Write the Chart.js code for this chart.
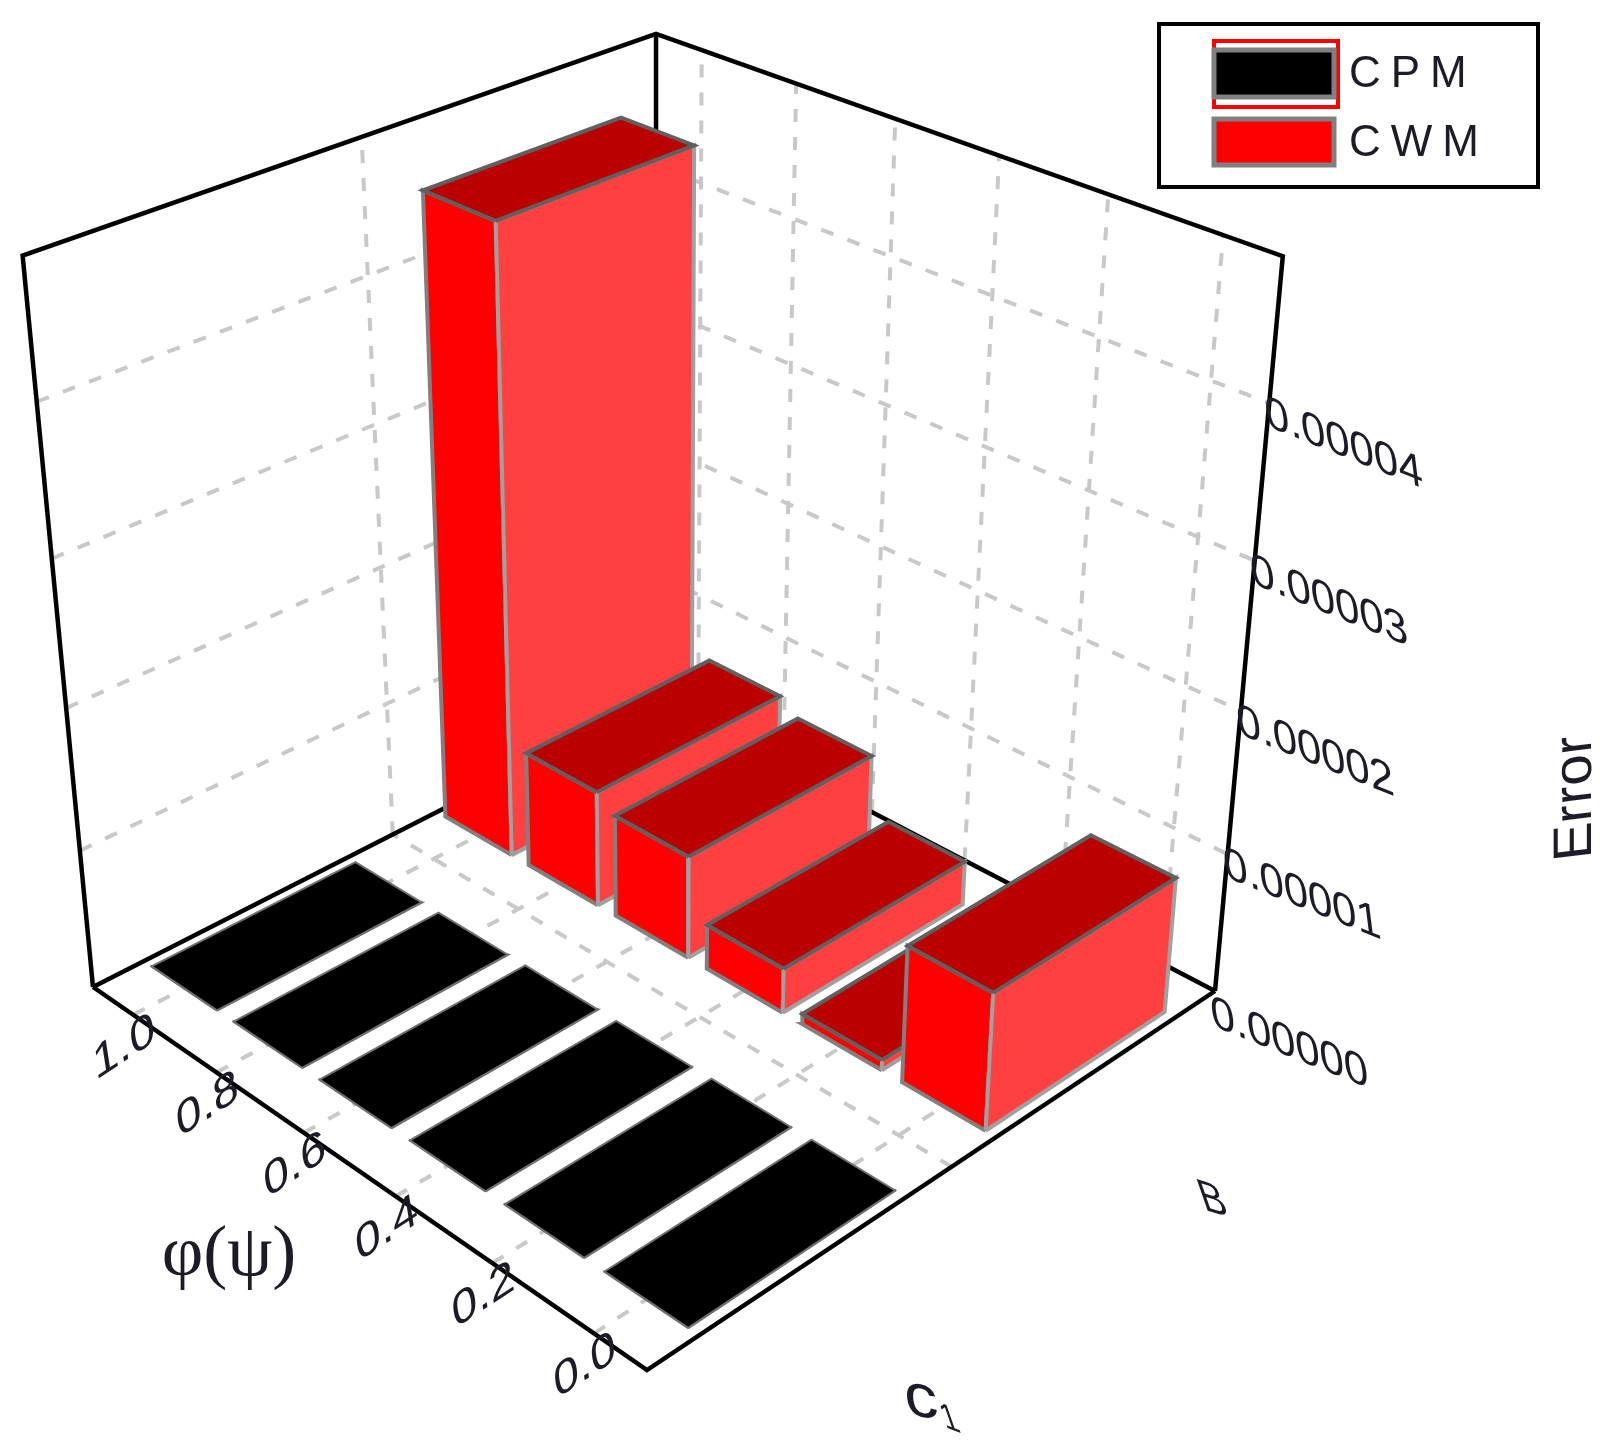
<!DOCTYPE html>
<html>
<head>
<meta charset="utf-8">
<title>Error</title>
<script src="https://cdn.jsdelivr.net/npm/chart.js@4/dist/chart.umd.min.js"></script>
<style>
  html, body { margin: 0; padding: 0; background: #fff; }
  canvas { display: block; }
</style>
</head>
<body>
<canvas id="barChart" width="1615" height="1451"></canvas>
<script>
// --- data ---
const phiValues = [0.0, 0.2, 0.4, 0.6, 0.8, 1.0];
const phiLabels = ['0.0', '0.2', '0.4', '0.6', '0.8', '1.0'];
const seriesNames = ['CPM', 'CWM'];
const categoryNames = ['c1', 'B'];
const cpmValues = [0.00000002, 0.00000002, 0.00000002, 0.00000002, 0.00000002, 0.00000002];
const cwmValues = [0.00000975, 0.00000075, 0.00000325, 0.0000075, 0.0000085, 0.0000446];
const errorTicks = [0, 0.00001, 0.00002, 0.00003, 0.00004];
const errorLabels = ['0.00000', '0.00001', '0.00002', '0.00003', '0.00004'];

// --- 3D box seen in perspective: floor corners + vertical vanishing point ---
const floorFront = [647, 1370], floorLeft = [93, 987], floorRight = [1215, 991], floorBack = [657, 700];
const topBackY = 34, vanish = [666, 6942];
const errorMax = 0.0000489;
const phiMin = -0.1, phiMax = 1.1;
const barWidthPhi = 0.16, barWidthCat = 0.34;   // in axis units
const catCenters = [0.25, 0.75];                 // position of the two rows along the floor

function floorMatrix() {
  const [x0, y0] = floorFront, [x1, y1] = floorLeft, [x2, y2] = floorBack, [x3, y3] = floorRight;
  const dx1 = x1 - x2, dx2 = x3 - x2, sx = x0 - x1 + x2 - x3;
  const dy1 = y1 - y2, dy2 = y3 - y2, sy = y0 - y1 + y2 - y3;
  const den = dx1 * dy2 - dx2 * dy1;
  const g = (sx * dy2 - dx2 * sy) / den, h = (dx1 * sy - sx * dy1) / den;
  return { a: x1 - x0 + g * x1, b: x3 - x0 + h * x3, c: x0, d: y1 - y0 + g * y1, e: y3 - y0 + h * y3, f: y0, g, h };
}
const fm = floorMatrix();
const backBase = [fm.a + fm.b + fm.c, fm.d + fm.e + fm.f, fm.g + fm.h + 1];
const k = (backBase[1] - topBackY * backBase[2]) / (topBackY - vanish[1]);

// u = phi axis (0..1), v = category axis (0..1), w = error axis (0..1)
function project(u, v, w) {
  const px = fm.a * u + fm.b * v + fm.c + w * k * vanish[0];
  const py = fm.d * u + fm.e * v + fm.f + w * k * vanish[1];
  const pw = fm.g * u + fm.h * v + 1 + w * k;
  return { x: px / pw, y: py / pw };
}
const uOf = phi => (phi - phiMin) / (phiMax - phiMin);
const wOf = val => val / errorMax;

// --- every face and line is one scatter dataset ---
const datasets = [];
function addLine(points, color, width, dash) {
  datasets.push({
    showLine: true, data: points, borderColor: color, borderWidth: width, borderDash: dash || [],
    pointRadius: 0, fill: false, tension: 0, clip: false, order: -datasets.length
  });
}
function addFace(points, color, edge, width) {
  datasets.push({
    showLine: true, data: points.concat([points[0]]), backgroundColor: color, borderColor: edge, borderWidth: width,
    pointRadius: 0, fill: 'shape', tension: 0, clip: false, order: -datasets.length
  });
}

const gridColor = '#c8c8c8', gridDash = [13, 15];
// floor grid
phiValues.forEach(phi => {
  const u = uOf(phi);
  addLine([project(u, 0, 0), project(u, 1, 0)], gridColor, 4, gridDash);
  addLine([project(u, 1, 0), project(u, 1, 1)], gridColor, 4, gridDash);
});
addLine([project(0, 0.5, 0), project(1, 0.5, 0)], gridColor, 4, gridDash);
addLine([project(1, 0.5, 0), project(1, 0.5, 1)], gridColor, 4, gridDash);
// wall levels
errorTicks.slice(1).forEach(t => {
  const w = wOf(t);
  addLine([project(1, 0, w), project(1, 1, w), project(0, 1, w)], gridColor, 4, gridDash);
});
// frame
addLine([project(1, 0, 0), project(1, 0, 1), project(1, 1, 1), project(0, 1, 1), project(0, 1, 0)], '#000', 4.5);
addLine([project(1, 1, 0), project(1, 1, 1)], '#000', 4.5);
addLine([project(1, 0, 0), project(1, 1, 0), project(0, 1, 0)], '#000', 4.5);
addLine([project(1, 0, 0), project(0, 0, 0), project(0, 1, 0)], '#000', 4.5);

function addBar(phi, row, value, colors) {
  const u0 = uOf(phi - barWidthPhi / 2), u1 = uOf(phi + barWidthPhi / 2);
  const v0 = catCenters[row] - barWidthCat / 2, v1 = catCenters[row] + barWidthCat / 2;
  const w = wOf(value);
  addFace([project(u0, v0, 0), project(u1, v0, 0), project(u1, v0, w), project(u0, v0, w)], colors.side, colors.sideEdge, colors.width);
  addFace([project(u0, v0, 0), project(u0, v1, 0), project(u0, v1, w), project(u0, v0, w)], colors.front, colors.frontEdge, colors.width);
  addFace([project(u0, v0, w), project(u0, v1, w), project(u1, v1, w), project(u1, v0, w)], colors.top, colors.topEdge, colors.width);
}
const redBar = { side: '#ff0000', sideEdge: '#808080', front: '#ff4040', frontEdge: '#a0a0a0', top: '#bb0000', topEdge: '#606060', width: 4 };
const blackBar = { side: '#000', sideEdge: '#707070', front: '#000', frontEdge: '#707070', top: '#000', topEdge: '#707070', width: 2 };
for (let i = phiValues.length - 1; i >= 0; i--) addBar(phiValues[i], 1, cwmValues[i], redBar);
for (let i = phiValues.length - 1; i >= 0; i--) addBar(phiValues[i], 0, cpmValues[i], blackBar);

// --- text and legend, sheared like the original ---
const textColor = '#1c1c28';
function skewText(ctx, text, x, y, font, axisX, axisY, align) {
  ctx.save();
  ctx.transform(axisX[0], axisX[1], axisY[0], axisY[1], x, y);
  ctx.font = font;
  ctx.fillStyle = textColor;
  ctx.textAlign = align || 'center';
  ctx.textBaseline = 'middle';
  ctx.fillText(text, 0, 0);
  ctx.restore();
}

const overlay = {
  id: 'overlay',
  afterDraw(chart) {
    const ctx = chart.ctx;
    const sx = chart.scales.x, sy = chart.scales.y;
    const at = p => [sx.getPixelForValue(p.x), sy.getPixelForValue(p.y)];

    phiValues.forEach((phi, i) => {
      const [x, y] = at(project(uOf(phi), 0, 0));
      skewText(ctx, phiLabels[i], x - 9, y + 33, '58px "Liberation Sans"', [0.76, -0.5], [0.12, 0.78]);
    });
    errorTicks.forEach((t, i) => {
      const [x, y] = at(project(0, 1, wOf(t)));
      skewText(ctx, errorLabels[i], x - 4, y + (t === 0 ? 22 : 10), '58px "Liberation Sans"', [0.75, 0.3], [0.1, 0.8], 'left');
    });

    skewText(ctx, 'φ(ψ)', 229, 1256, '72px "Liberation Serif"', [1, 0], [0, 1]);
    skewText(ctx, 'Error', 1576, 798, '56px "Liberation Sans"', [0, -1], [0.97, -0.12]);
    skewText(ctx, 'c', 921, 1400, '64px "Liberation Sans"', [1.05, 0.2], [0.1, 0.95]);
    skewText(ctx, '1', 950, 1420, '38px "Liberation Sans"', [0.8, 0.3], [0.35, 1]);
    skewText(ctx, categoryNames[1], 1213, 1201, '46px "Liberation Sans"', [0.85, 0.25], [0.35, 1]);

    // legend box
    ctx.save();
    ctx.lineWidth = 4;
    ctx.strokeStyle = '#000';
    ctx.strokeRect(1159, 24, 379, 163);
    ctx.strokeStyle = '#f00';
    ctx.strokeRect(1214, 41, 124, 66);
    ctx.fillStyle = '#000';
    ctx.fillRect(1214, 50, 120, 47);
    ctx.fillStyle = '#f00';
    ctx.fillRect(1214, 119, 120, 46);
    ctx.strokeStyle = '#808080';
    ctx.lineWidth = 5;
    ctx.strokeRect(1214, 50, 120, 47);
    ctx.strokeRect(1214, 119, 120, 46);
    ctx.fillStyle = textColor;
    ctx.font = '44px "Liberation Sans"';
    ctx.textBaseline = 'middle';
    ctx.letterSpacing = '10px';
    ctx.fillText(seriesNames[0], 1349, 75);
    ctx.fillText(seriesNames[1], 1349, 144);
    ctx.restore();
  }
};

const ctxChart = document.getElementById('barChart').getContext('2d');
const barChart = new Chart(ctxChart, {
  type: 'scatter',
  data: { datasets },
  options: {
    responsive: false,
    animation: false,
    layout: { padding: 0 },
    plugins: { legend: { display: false }, tooltip: { enabled: false } },
    scales: {
      x: { type: 'linear', display: false, min: 0, max: 1615 },
      y: { type: 'linear', display: false, min: 0, max: 1451, reverse: true }
    }
  },
  plugins: [overlay]
});
</script>
</body>
</html>
